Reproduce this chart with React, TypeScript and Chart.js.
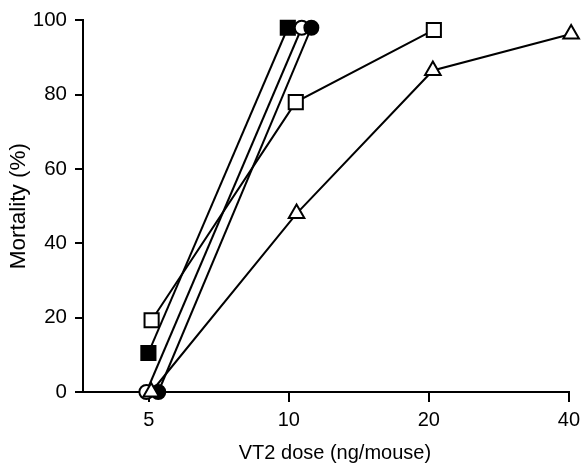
import React, { useEffect, useRef } from "react";
import { Chart, registerables } from "chart.js";

Chart.register(...registerables);

// Axis ticks
const doseTicks = [5, 10, 20, 40];
const mortalityTicks = [0, 20, 40, 60, 80, 100];

// Series (dose in ng/mouse, mortality in %)
const openSquareDose = [5.07, 10.35, 20.5];
const openSquareMortality = [19.3, 78, 97.4];

const filledSquareDose = [4.99, 9.95];
const filledSquareMortality = [10.5, 98];

const openCircleDose = [4.94, 10.66];
const openCircleMortality = [0, 98];

const filledCircleDose = [5.24, 11.18];
const filledCircleMortality = [0, 98];

const triangleDose = [5.06, 10.39, 20.4, 40.45];
const triangleMortality = [0, 48, 86.5, 96.3];

const pts = (xs: number[], ys: number[]) => xs.map((x, i) => ({ x, y: ys[i] }));

// Nudges the x-axis title slightly right, as in the reference
const titleShift = {
  id: "titleShift",
  beforeDraw(chart: any) {
    const s = chart.scales.x;
    if (s && !s.__shifted) {
      const orig = s.drawTitle.bind(s);
      s.drawTitle = () => {
        s.ctx.save();
        s.ctx.translate(9, 0);
        orig();
        s.ctx.restore();
      };
      s.__shifted = true;
    }
  },
};

export default function App() {
  const ref = useRef<HTMLCanvasElement | null>(null);

  useEffect(() => {
    if (!ref.current) return;
    const font = "'Liberation Sans', Arial, Helvetica, sans-serif";
    const base = {
      borderColor: "#000",
      borderWidth: 2,
      pointBorderWidth: 2,
      pointBorderColor: "#000",
      showLine: true,
      tension: 0,
      clip: false as any,
    };
    const chart = new Chart(ref.current, {
      type: "scatter",
      data: {
        datasets: [
          {
            ...base,
            label: "triangle",
            data: pts(triangleDose, triangleMortality),
            pointStyle: "triangle",
            pointRadius: 9,
            pointBackgroundColor: "#fff",
          },
          {
            ...base,
            label: "filled circle",
            data: pts(filledCircleDose, filledCircleMortality),
            pointStyle: "circle",
            pointRadius: 7,
            pointBackgroundColor: "#000",
          },
          {
            ...base,
            label: "open circle",
            data: pts(openCircleDose, openCircleMortality),
            pointStyle: "circle",
            pointRadius: 7,
            pointBackgroundColor: "#fff",
          },
          {
            ...base,
            label: "filled square",
            data: pts(filledSquareDose, filledSquareMortality),
            pointStyle: "rect",
            pointRadius: 10,
            pointBackgroundColor: "#000",
          },
          {
            ...base,
            label: "open square",
            data: pts(openSquareDose, openSquareMortality),
            pointStyle: "rect",
            pointRadius: 10,
            pointBackgroundColor: "#fff",
          },
        ],
      },
      options: {
        animation: false,
        responsive: false,
        layout: { padding: { top: 16, right: 14, left: 0, bottom: 0 } },
        plugins: { legend: { display: false }, tooltip: { enabled: false } },
        scales: {
          x: {
            type: "logarithmic",
            min: 3.61,
            max: 40,
            afterBuildTicks: (s: any) => {
              s.ticks = doseTicks.map((v) => ({ value: v }));
            },
            afterFit: (s: any) => {
              s.height = 79;
            },
            border: { color: "#000", width: 2 },
            grid: { drawOnChartArea: false, color: "#000", lineWidth: 2, tickLength: 10 },
            ticks: {
              autoSkip: false,
              maxRotation: 0,
              color: "#000",
              padding: 6,
              font: { family: font, size: 20 },
              callback: (v: any) => String(v),
            },
            title: {
              display: true,
              text: "VT2 dose (ng/mouse)",
              color: "#000",
              font: { family: font, size: 20 },
              padding: { top: 0, bottom: 6 },
            },
          },
          y: {
            min: 0,
            max: 100,
            afterBuildTicks: (s: any) => {
              s.ticks = mortalityTicks.map((v) => ({ value: v }));
            },
            afterFit: (s: any) => {
              s.width = 83;
            },
            border: { color: "#000", width: 2 },
            grid: { drawOnChartArea: false, color: "#000", lineWidth: 2, tickLength: 8 },
            ticks: {
              color: "#000",
              padding: 8,
              font: { family: font, size: 20.5 },
            },
            title: {
              display: true,
              text: "Mortality (%)",
              color: "#000",
              font: { family: font, size: 22.5 },
              padding: { top: 5, bottom: 0 },
            },
          },
        },
      },
      plugins: [titleShift],
    });
    return () => chart.destroy();
  }, []);

  return (
    <div style={{ position: "fixed", left: 0, top: 0, width: 586, height: 471, background: "#fff" }}>
      <canvas ref={ref} width={586} height={471} style={{ width: 586, height: 471, display: "block" }} />
    </div>
  );
}
